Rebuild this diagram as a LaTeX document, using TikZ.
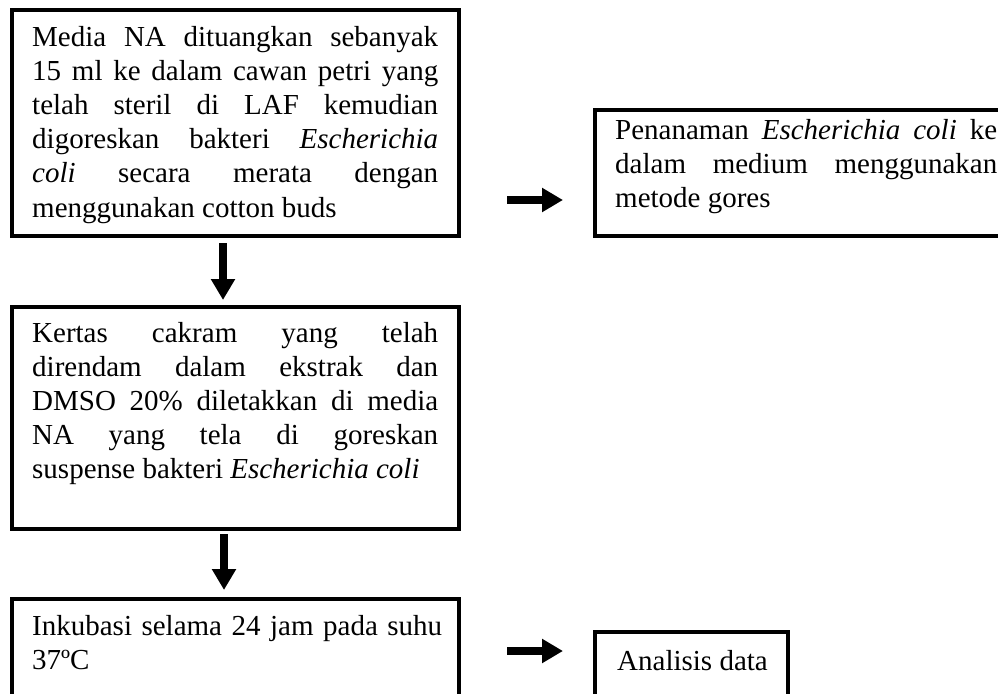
\documentclass[tikz,border=0pt]{standalone}
\usepackage{fontspec}
\setmainfont{Liberation Serif}
\usetikzlibrary{arrows.meta}
\newcommand\flowtext[2]{\parbox[t]{#1}{\fontsize{29}{34}\selectfont\parindent0pt\hyphenpenalty10000\exhyphenpenalty10000\tolerance10000\hbadness10000\strut #2\strut}}
\tikzset{
  framebox/.style={draw, line width=4pt, inner sep=0pt},
  txt/.style={anchor=north west, inner sep=0pt},
  bigarrow/.style={line width=7.5pt, -{Triangle[length=21pt,width=23pt]}}
}
\begin{document}
\begin{tikzpicture}[x=1pt,y=-1pt]
\useasboundingbox (0,0) rectangle (998,693);
% boxes
\node[framebox, minimum width=447pt, minimum height=226pt] (b1) at (235.5,123) {};
\node[framebox, minimum width=417pt, minimum height=126pt] (b2) at (803.5,173) {};
\node[framebox, minimum width=447pt, minimum height=222pt] (b3) at (235.5,418) {};
\node[framebox, minimum width=447pt, minimum height=121pt] (b4) at (235.5,659.5) {};
\node[framebox, minimum width=193pt, minimum height=88pt] (b5) at (691.5,676) {};
% texts
\node[txt] (t1) at (32,23) {\flowtext{406pt}{Media NA dituangkan sebanyak\linebreak 15 ml ke dalam cawan petri yang\linebreak telah steril di LAF kemudian\linebreak digoreskan bakteri \textit{Escherichia}\linebreak \textit{coli} secara merata dengan\linebreak menggunakan cotton buds}};
\node[txt] (t2) at (615,115) {\flowtext{382pt}{Penanaman \textit{Escherichia coli} ke\linebreak dalam medium menggunakan\linebreak metode gores}};
\node[txt] (t3) at (32,318) {\flowtext{406pt}{Kertas cakram yang telah\linebreak direndam dalam ekstrak dan\linebreak DMSO 20\% diletakkan di media\linebreak NA yang tela di goreskan\linebreak suspense bakteri \textit{Escherichia coli}}};
\node[txt] (t4) at (32,611) {\flowtext{410pt}{Inkubasi selama 24 jam pada suhu\linebreak 37ºC}};
\node[txt] (t5) at (617,646) {\flowtext{170pt}{Analisis data}};
% arrows
\draw[bigarrow, shorten <=5pt, shorten >=5pt] ([xshift=-12.5pt]b1.south) -- ([xshift=-12.5pt]b3.north);
\draw[bigarrow, shorten <=3pt, shorten >=7pt] ([xshift=-11.5pt]b3.south) -- ([xshift=-11.5pt]b4.north);
\coordinate (s1) at ([yshift=-77pt]b1.east);
\draw[bigarrow, shorten <=46pt, shorten >=30pt] (s1) -- (s1 -| b2.west);
\coordinate (s2) at ([yshift=8.5pt]b4.east);
\draw[bigarrow, shorten <=46pt, shorten >=30pt] (s2) -- (s2 -| b5.west);
\end{tikzpicture}
\end{document}
